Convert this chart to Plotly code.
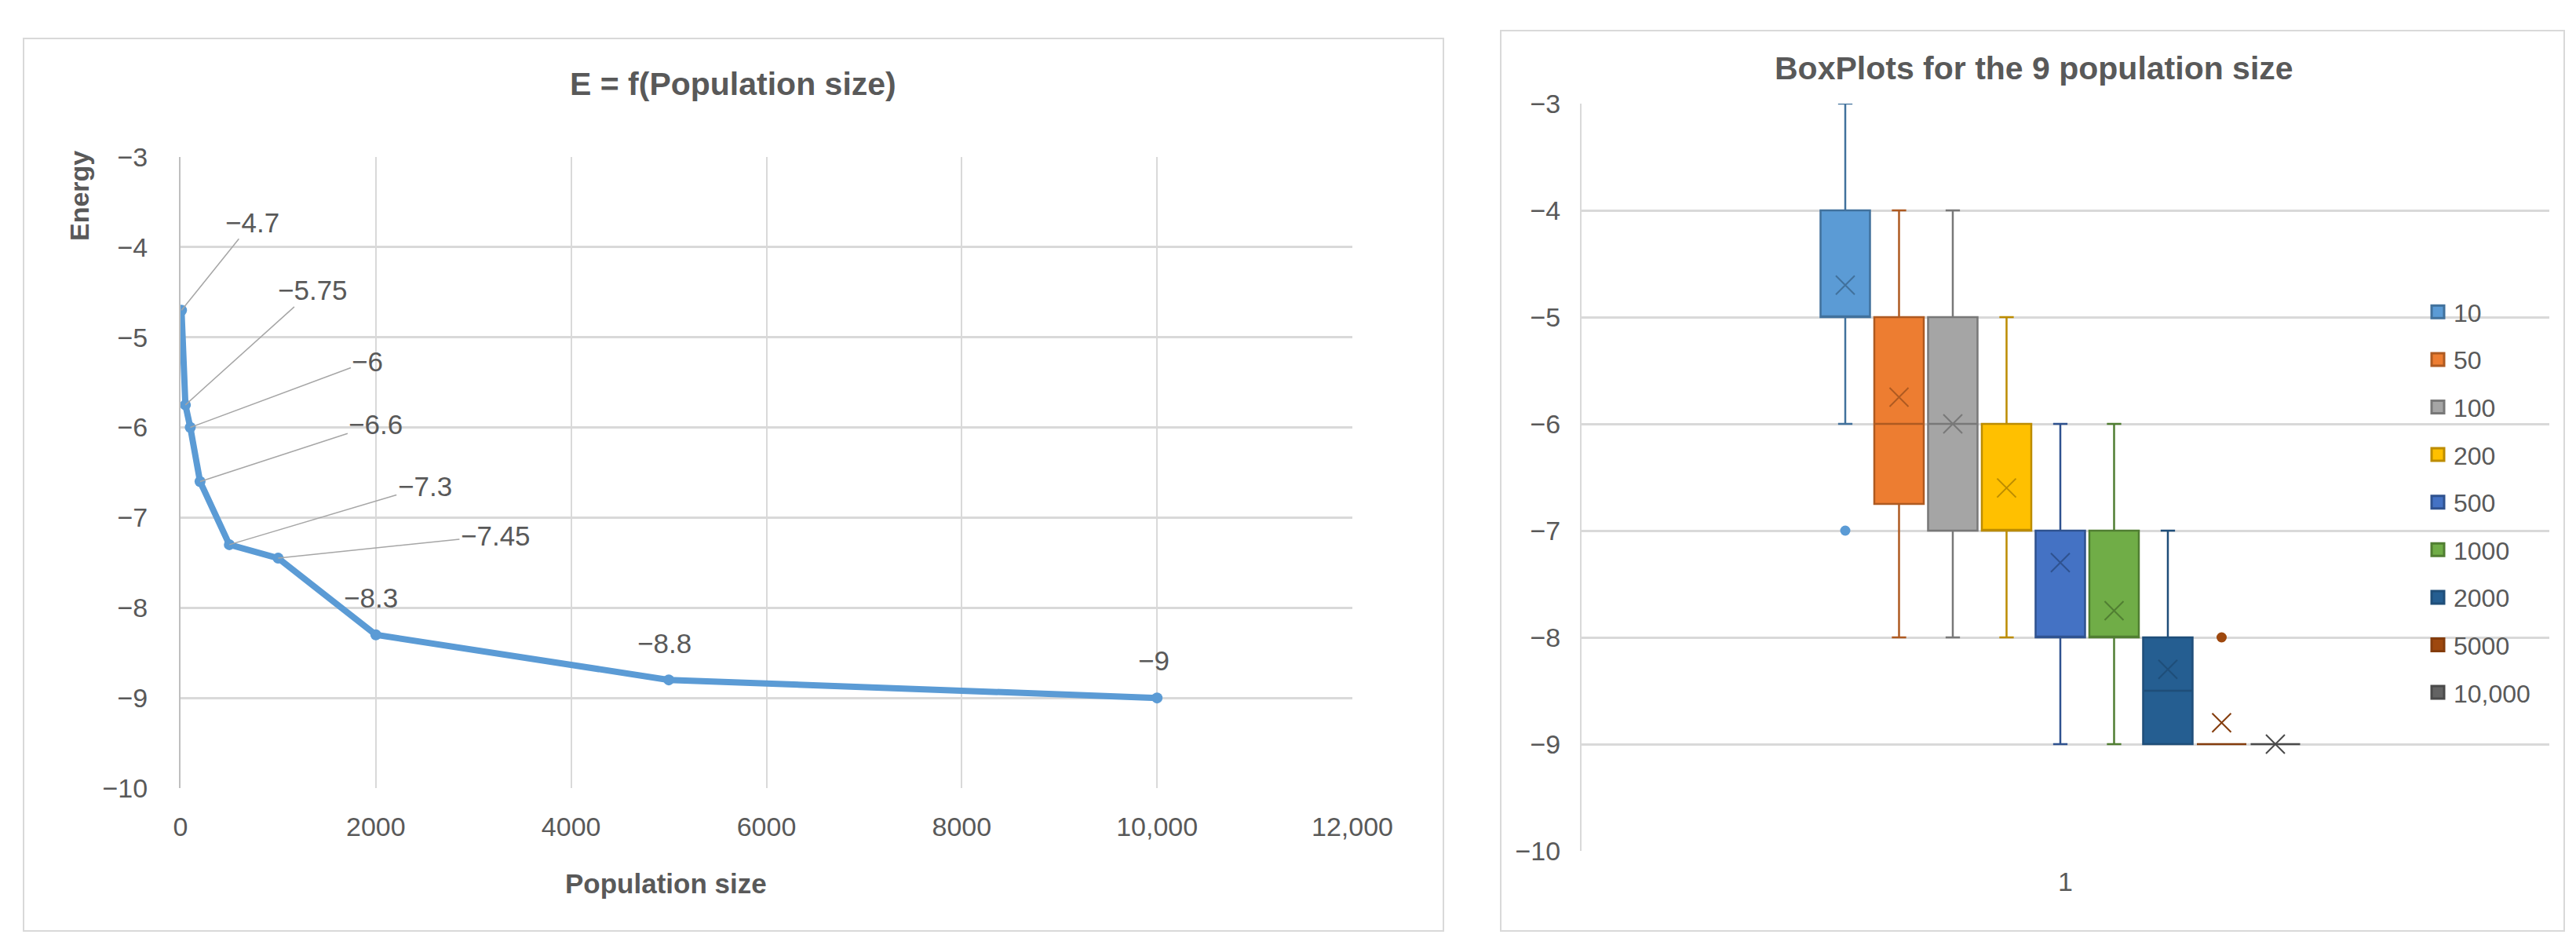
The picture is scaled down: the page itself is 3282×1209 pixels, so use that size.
import plotly.graph_objects as go

W, H = 3282, 1209

# left chart: energy against population size
pop_sizes = [10, 50, 100, 200, 500, 1000, 2000, 5000, 10000]
energy = [-4.7, -5.75, -6, -6.6, -7.3, -7.45, -8.3, -8.8, -9]
x_tick_vals = [0, 2000, 4000, 6000, 8000, 10000, 12000]
x_tick_text = ["0", "2000", "4000", "6000", "8000", "10,000", "12,000"]
y_tick_vals = [-3, -4, -5, -6, -7, -8, -9, -10]

# right chart: box plot statistics per population size
box_names = ["10", "50", "100", "200", "500", "1000", "2000", "5000", "10,000"]
box_lower = [-6, -8, -8, -8, -9, -9, -9, -9, -9]
box_q1 = [-5, -6.75, -7, -7, -8, -8, -9, -9, -9]
box_median = [-5, -6, -6, -7, -8, -8, -8.5, -9, -9]
box_q3 = [-4, -5, -5, -6, -7, -7, -8, -9, -9]
box_upper = [-3, -4, -4, -5, -6, -6, -7, -9, -9]
box_mean = [-4.7, -5.75, -6, -6.6, -7.3, -7.75, -8.3, -8.8, -9]
box_outliers = [[-7], [], [], [], [], [], [], [-8], []]

fills = ["#5B9BD5", "#ED7D31", "#A5A5A5", "#FFC000", "#4472C4",
         "#70AD47", "#255E91", "#9E480E", "#636363"]
edges = ["#41719C", "#AE5A21", "#787878", "#BC8C00", "#2F528F",
         "#507E32", "#1F4E79", "#843C0C", "#4A4A4A"]

TXT = "#595959"
GRID = "#d9d9d9"
FONT = "Liberation Sans, Arial, sans-serif"


def fx(p):
    return p / W


def fy(p):
    return 1 - p / H


def fmt(v):
    return ("%g" % v).replace("-", "\u2212")


fig = go.Figure()

fig.add_trace(go.Scatter(
    x=pop_sizes, y=energy, mode="lines+markers",
    line=dict(color="#5B9BD5", width=8),
    marker=dict(size=14, color="#5B9BD5"),
    showlegend=False, xaxis="x", yaxis="y",
))

# label offsets in pixels (leader-line labels first, then plain labels above)
label_offsets = [(90, -112), (162, -146), (226, -84), (224, -73), (249, -74), (277, -29)]
plain_shift = [(-6, 47), (-6, 47), (-4, 48)]

annotations = []
for i, (xv, yv) in enumerate(zip(pop_sizes, energy)):
    if i < len(label_offsets):
        ax, ay = label_offsets[i]
        annotations.append(dict(
            x=xv, y=yv, xref="x", yref="y", text=fmt(yv),
            showarrow=True, arrowhead=0, arrowwidth=1.5, arrowcolor="#a6a6a6",
            ax=ax, ay=ay, standoff=0,
            font=dict(family=FONT, size=35, color=TXT),
        ))
    else:
        dx, dy = plain_shift[i - len(label_offsets)]
        annotations.append(dict(
            x=xv, y=yv, xref="x", yref="y", text=fmt(yv), showarrow=False,
            xshift=dx, yshift=dy,
            font=dict(family=FONT, size=35, color=TXT),
        ))

# right chart boxes
positions = list(range(len(box_names)))
for i, name in enumerate(box_names):
    fig.add_trace(go.Box(
        x=[positions[i]], q1=[box_q1[i]], median=[box_median[i]], q3=[box_q3[i]],
        lowerfence=[box_lower[i]], upperfence=[box_upper[i]],
        name=name, width=0.92, whiskerwidth=0.29, boxpoints=False,
        fillcolor=fills[i], line=dict(color=edges[i], width=2.5),
        legendgroup=name, showlegend=False, xaxis="x2", yaxis="y2",
    ))
    # legend entry drawn as a filled square, like the spreadsheet legend
    fig.add_trace(go.Scatter(
        x=[None], y=[None], mode="markers", name=name, legendgroup=name,
        marker=dict(symbol="square", size=16, color=fills[i],
                    line=dict(color=edges[i], width=3)),
        xaxis="x2", yaxis="y2",
    ))

fig.add_trace(go.Scatter(
    x=positions, y=box_mean, mode="markers",
    marker=dict(symbol="x-thin", size=24, line=dict(width=2, color=edges)),
    showlegend=False, xaxis="x2", yaxis="y2", hoverinfo="skip",
))

out_x, out_y, out_c = [], [], []
for i, pts in enumerate(box_outliers):
    for p in pts:
        out_x.append(positions[i])
        out_y.append(p)
        out_c.append(fills[i])
fig.add_trace(go.Scatter(
    x=out_x, y=out_y, mode="markers",
    marker=dict(size=13, color=out_c),
    showlegend=False, xaxis="x2", yaxis="y2",
))

lo, hi = -4.905, 13.095

tick_font = dict(family=FONT, size=34, color=TXT)

fig.update_layout(
    width=W, height=H,
    margin=dict(l=0, r=0, t=0, b=0, pad=0, autoexpand=False),
    paper_bgcolor="white", plot_bgcolor="white",
    font=dict(family=FONT, color=TXT),
    xaxis=dict(
        domain=[fx(222), fx(1715)], range=[0, 12000],
        tickvals=x_tick_vals, ticktext=x_tick_text, tickfont=tick_font,
        showgrid=True, gridcolor=GRID, gridwidth=2,
        zeroline=False, showline=False, ticks="", ticklabelstandoff=26,
        anchor="y",
    ),
    yaxis=dict(
        domain=[fy(996), fy(192)], range=[-10, -3],
        tickvals=y_tick_vals, tickfont=tick_font,
        showgrid=True, gridcolor=GRID, gridwidth=3,
        zeroline=False, showline=True, linecolor="#bfbfbf", linewidth=2,
        ticks="", ticklabelstandoff=33, anchor="x",
    ),
    xaxis2=dict(
        domain=[fx(2007), fx(3240)], range=[lo, hi],
        tickvals=[(lo + hi) / 2], ticktext=["1"], tickfont=tick_font,
        showgrid=False, zeroline=False, showline=False, ticks="",
        ticklabelstandoff=16, anchor="y2",
    ),
    yaxis2=dict(
        domain=[fy(1076), fy(124)], range=[-10, -3],
        tickvals=y_tick_vals, tickfont=tick_font,
        showgrid=True, gridcolor=GRID, gridwidth=3,
        zeroline=False, showline=True, linecolor="#d9d9d9", linewidth=2,
        ticks="", ticklabelstandoff=18, anchor="x2",
    ),
    legend=dict(
        x=fx(3078), y=fy(362), xanchor="left", yanchor="top",
        font=dict(family=FONT, size=32, color=TXT),
        tracegroupgap=16, bgcolor="rgba(0,0,0,0)", itemsizing="trace",
    ),
    showlegend=True,
)

annotations += [
    dict(x=fx(926), y=fy(99), xref="paper", yref="paper", text="<b>E = f(Population size)</b>",
         xanchor="center", yanchor="middle", showarrow=False,
         font=dict(family=FONT, size=41, color=TXT)),
    dict(x=fx(2583), y=fy(79), xref="paper", yref="paper",
         text="<b>BoxPlots for the 9 population size</b>",
         xanchor="center", yanchor="middle", showarrow=False,
         font=dict(family=FONT, size=41, color=TXT)),
    dict(x=fx(840), y=fy(1117), xref="paper", yref="paper", text="<b>Population size</b>",
         xanchor="center", yanchor="middle", showarrow=False,
         font=dict(family=FONT, size=35, color=TXT)),
    dict(x=fx(93), y=fy(242), xref="paper", yref="paper", text="<b>Energy</b>",
         xanchor="center", yanchor="middle", textangle=-90, showarrow=False,
         font=dict(family=FONT, size=34, color=TXT)),
]
fig.update_layout(annotations=annotations)

# panel frames
fig.add_shape(type="rect", xref="paper", yref="paper",
              x0=fx(22), x1=fx(1831), y0=fy(1178), y1=fy(41),
              line=dict(color=GRID, width=2), layer="below")
fig.add_shape(type="rect", xref="paper", yref="paper",
              x0=fx(1904), x1=fx(3259), y0=fy(1178), y1=fy(31),
              line=dict(color=GRID, width=2), layer="below")

fig.write_html("out.html")
